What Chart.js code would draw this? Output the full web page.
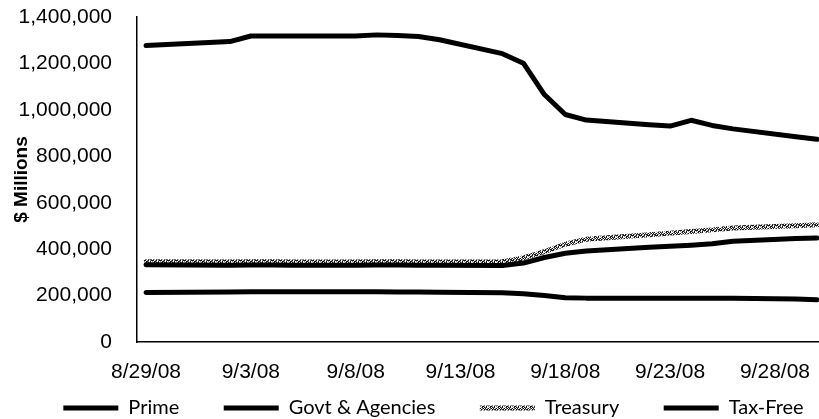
<!DOCTYPE html>
<html>
<head>
<meta charset="utf-8">
<script src="https://cdn.jsdelivr.net/npm/chart.js@4.4.1/dist/chart.umd.min.js"></script>
<style>
  body { margin: 0; background: #fff; overflow: hidden; }
</style>
</head>
<body>
<canvas id="chart" width="819" height="419"></canvas>
<script>
// trading days (weekends and Labor Day are simply not in the data)
const days = ['2008-08-29', '2008-09-02', '2008-09-03', '2008-09-04', '2008-09-05',
  '2008-09-08', '2008-09-09', '2008-09-10', '2008-09-11', '2008-09-12',
  '2008-09-15', '2008-09-16', '2008-09-17', '2008-09-18', '2008-09-19',
  '2008-09-22', '2008-09-23', '2008-09-24', '2008-09-25', '2008-09-26',
  '2008-09-29', '2008-09-30'];

const tickDays = [0, 5, 10, 15, 20, 25, 30];
const tickLabels = ['8/29/08', '9/3/08', '9/8/08', '9/13/08', '9/18/08', '9/23/08', '9/28/08'];

const prime = [1277000, 1294000, 1318000, 1318000, 1318000, 1318000, 1323000, 1320000, 1316000, 1302000,
  1242000, 1201000, 1066000, 980000, 956000, 936000, 930000, 955000, 933000, 918000, 884000, 873000];
const govt = [333000, 331000, 332000, 332000, 331000, 331000, 332000, 332000, 331000, 331000,
  330000, 340000, 364000, 382000, 392000, 408000, 412000, 417000, 423000, 434000, 446000, 448000];
const treasury = [346000, 345000, 346000, 346000, 345000, 345000, 346000, 346000, 345000, 345000,
  346000, 362000, 389000, 421000, 443000, 462000, 469000, 476000, 483000, 491000, 501000, 505000];
const taxFree = [213000, 215000, 216000, 216000, 216000, 216000, 216000, 215000, 215000, 214000,
  212000, 208000, 200000, 191000, 189000, 189000, 189000, 189000, 189000, 188000, 185000, 182000];

function dayNum(d) {
  return (Date.parse(d) - Date.parse(days[0])) / 864e5;
}

function series(values) {
  return values.map((v, i) => ({x: dayNum(days[i]), y: v}));
}

// speckled texture for the Treasury line
function makeTexture() {
  const rows = ['kkwgkwgk', 'gwkkgwkw', 'wgkwkgkw', 'kwgkwkwg', 'wkgwkgkk'];
  const cols = {k: '#1a1a1a', g: '#888', w: '#fff'};
  const c = document.createElement('canvas');
  c.width = rows[0].length;
  c.height = rows.length;
  const g = c.getContext('2d');
  rows.forEach((r, y) => {
    for (let x = 0; x < r.length; x++) {
      g.fillStyle = cols[r[x]];
      g.fillRect(x, y, 1, 1);
    }
  });
  return g.createPattern(c, 'repeat');
}

Chart.defaults.font.family = "'Liberation Sans', Arial, sans-serif";
Chart.defaults.font.size = 21;
Chart.defaults.color = '#000';

// gap after each legend entry except the last one
const legendGap = '\u2003\u2003\u2002\u2009';

const ctx = document.getElementById('chart').getContext('2d');
new Chart(ctx, {
  type: 'line',
  data: {
    datasets: [
      {label: 'Prime', data: series(prime), borderColor: '#000', borderWidth: 5},
      {label: 'Govt & Agencies', data: series(govt), borderColor: '#000', borderWidth: 5},
      {label: 'Treasury', data: series(treasury), borderColor: makeTexture(), borderWidth: 5},
      {label: 'Tax-Free', data: series(taxFree), borderColor: '#000', borderWidth: 5}
    ]
  },
  options: {
    responsive: false,
    animation: false,
    // legend box is wider than the picture on the right, and sits low
    layout: {padding: {top: 17, right: -48, bottom: -9, left: 0}},
    elements: {
      point: {radius: 0},
      line: {tension: 0, borderCapStyle: 'round', borderJoinStyle: 'round', fill: false}
    },
    scales: {
      x: {
        type: 'linear',
        min: -0.43,
        max: 32.1,
        // hidden tick marks, used only to push the labels down
        grid: {display: false, drawTicks: true, tickLength: 18},
        border: {display: true, color: '#000', width: 1.5},
        afterBuildTicks: axis => { axis.ticks = tickDays.map(v => ({value: v})); },
        afterFit: axis => { axis.height = 54; },
        ticks: {
          padding: 0,
          maxRotation: 0,
          autoSkip: false,
          callback: (v, i) => tickLabels[i]
        }
      },
      y: {
        min: 0,
        max: 1400000,
        grid: {display: false, drawTicks: true, tickLength: 21},
        border: {display: true, color: '#000', width: 1.5},
        afterFit: axis => { axis.width = 137; },
        ticks: {
          stepSize: 200000,
          padding: 4,
          callback: v => v.toLocaleString('en-US')
        },
        title: {
          display: true,
          text: '$ Millions',
          font: {size: 19, weight: 'bold'},
          padding: {top: 10.6, bottom: 0}
        }
      }
    },
    plugins: {
      legend: {
        position: 'bottom',
        labels: {
          usePointStyle: true,
          pointStyle: 'line',
          pointStyleWidth: 55,
          padding: 2,
          color: '#000',
          font: {family: 'Lato', size: 20},
          generateLabels: chart => {
            const items = Chart.defaults.plugins.legend.labels.generateLabels(chart);
            items.forEach((it, i) => {
              if (i < items.length - 1) it.text += legendGap;
            });
            return items;
          }
        }
      },
      tooltip: {enabled: false}
    }
  }
});
</script>
</body>
</html>
